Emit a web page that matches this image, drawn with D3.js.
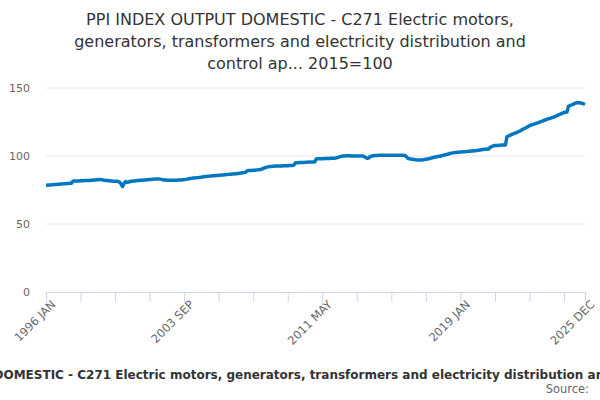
<!DOCTYPE html>
<html>
<head>
<meta charset="utf-8">
<script src="https://cdn.jsdelivr.net/npm/d3@7"></script>
<style>
  body { margin: 0; background: #fff; }
  svg { font-family: "DejaVu Sans", sans-serif; }
</style>
</head>
<body>
<svg id="chart" width="600" height="400"></svg>
<script>
const titleLines = [
  "PPI INDEX OUTPUT DOMESTIC - C271 Electric motors,",
  "generators, transformers and electricity distribution and",
  "control ap... 2015=100"
];
const caption = "PPI INDEX OUTPUT DOMESTIC - C271 Electric motors, generators, transformers and electricity distribution and control apparatus";
const monthNames = ["JAN","FEB","MAR","APR","MAY","JUN","JUL","AUG","SEP","OCT","NOV","DEC"];
const years = d3.range(1996, 2026);
const yTicks = [0, 50, 100, 150];
const labelledMonths = ["1996 JAN", "2003 SEP", "2011 MAY", "2019 JAN", "2025 DEC"];

// one row of 12 monthly values per year, 1996..2025
const values = [
  78.6,78.5,78.6,78.7,78.8,78.9,79.0,79.1,79.2,79.3,79.4,79.5,
  79.6,79.6,79.7,79.8,79.9,80.0,81.5,81.6,81.6,81.7,81.7,81.8,
  81.8,81.8,81.9,81.9,82.0,82.0,82.1,82.2,82.3,82.4,82.5,82.6,
  82.8,82.6,82.3,82.1,82.0,81.9,81.8,81.7,81.6,81.5,81.5,81.4,
  81.3,80.8,79.5,77.5,79.8,81.2,80.6,80.8,81.3,81.5,81.6,81.7,
  81.8,81.9,82.0,82.1,82.2,82.3,82.4,82.5,82.6,82.7,82.8,82.9,
  83.0,83.1,83.1,83.1,83.0,82.8,82.6,82.4,82.3,82.2,82.1,82.1,
  82.1,82.1,82.2,82.2,82.3,82.3,82.4,82.5,82.6,82.8,83.0,83.3,
  83.5,83.6,83.8,83.9,84.0,84.1,84.2,84.3,84.5,84.7,84.9,85.0,
  85.1,85.2,85.3,85.4,85.5,85.6,85.7,85.8,85.9,86.0,86.1,86.2,
  86.3,86.4,86.5,86.6,86.7,86.8,86.9,87.0,87.2,87.3,87.5,87.6,
  87.8,88.0,89.2,89.3,89.3,89.4,89.5,89.6,89.7,89.8,89.9,90.0,
  90.5,91.0,91.4,91.8,92.0,92.2,92.3,92.4,92.5,92.6,92.6,92.7,
  92.7,92.7,92.8,92.8,92.9,92.9,93.0,93.0,93.1,93.2,94.8,95.0,
  95.1,95.2,95.2,95.3,95.3,95.4,95.4,95.5,95.5,95.6,95.6,95.7,
  97.8,97.9,97.9,98.0,98.0,98.0,98.1,98.1,98.2,98.2,98.3,98.3,
  98.3,98.5,98.8,99.2,99.5,99.8,100,100,100.1,100.1,100.1,100,
  100,100,100,100,100,100,100,100,99.5,98.8,98.3,98.6,
  99.5,100,100.2,100.3,100.4,100.4,100.5,100.5,100.5,100.6,100.6,100.6,
  100.6,100.5,100.5,100.5,100.5,100.6,100.6,100.6,100.5,100.5,100.5,100.4,
  99.5,98.3,98.0,97.8,97.6,97.4,97.2,97.1,97.0,97.0,97.1,97.2,
  97.4,97.6,97.8,98.0,98.3,98.6,98.9,99.2,99.4,99.6,99.8,100,
  100.3,100.6,100.9,101.2,101.5,101.8,102.1,102.3,102.5,102.6,102.7,102.8,
  102.9,103.0,103.1,103.2,103.3,103.4,103.5,103.6,103.7,103.8,103.9,104.0,
  104.2,104.4,104.6,104.8,105.0,105.0,105.1,105.2,106.5,107.0,107.5,107.7,
  107.8,107.8,107.9,108.0,108.0,108.0,108.1,114.0,114.7,115.2,115.7,116.2,
  116.6,117.0,117.5,118.0,118.6,119.2,119.8,120.4,121.0,121.6,122.2,122.8,
  123.0,123.4,123.8,124.2,124.6,125.0,125.5,125.9,126.3,126.7,127.1,127.5,
  127.8,128.2,128.6,129.0,129.5,130.0,130.5,131.0,131.5,132.0,132.2,132.3,
  136.5,137.0,137.5,138.0,138.5,139.0,139.2,139.2,139.0,138.7,138.4,138.0
];

const months = years.flatMap(y => monthNames.map(m => y + " " + m));
const data = months.map((m, i) => ({ month: m, value: values[i] }));

const svg = d3.select("#chart");
const margin = { left: 46, right: 15, top: 88, bottom: 108 };
const W = 600, H = 400;

const x = d3.scalePoint().domain(months).range([margin.left, W - margin.right]);
const y = d3.scaleLinear().domain([0, 150]).range([H - margin.bottom, margin.top]);

// title
svg.append("g").selectAll("text").data(titleLines).join("text")
  .attr("x", 300).attr("y", (d, i) => 25 + i * 22)
  .attr("text-anchor", "middle").attr("fill", "#333").attr("font-size", 16)
  .text(d => d);

// gridlines + y labels
svg.append("g").selectAll("line").data(yTicks.filter(t => t > 0)).join("line")
  .attr("x1", margin.left).attr("x2", W - margin.right)
  .attr("y1", d => y(d)).attr("y2", d => y(d))
  .attr("stroke", "#e6e6e6");
svg.append("g").selectAll("text").data(yTicks).join("text")
  .attr("x", 30).attr("y", d => y(d) + 4)
  .attr("text-anchor", "end").attr("fill", "#666").attr("font-size", 11)
  .text(d => d);

// x axis: tick every 23 months plus the last
const tickMonths = d3.range(0, months.length, 23).map(i => months[i]).concat([months[months.length - 1]]);
const xAxis = d3.axisBottom(x).tickValues(tickMonths).tickSize(10)
  .tickFormat(d => labelledMonths.includes(d) ? d : "");
const gx = svg.append("g").attr("transform", `translate(0,${H - margin.bottom})`).call(xAxis);
gx.select(".domain").attr("stroke", "#ccd6eb");
gx.selectAll(".tick line").attr("stroke", "#ccd6eb");
gx.selectAll(".tick text")
  .attr("fill", "#666").attr("font-size", 11.5)
  .attr("font-family", "DejaVu Sans, sans-serif")
  .attr("text-anchor", "end")
  .attr("transform", "rotate(-45)")
  .attr("dx", "-0.2em").attr("dy", "0.9em")
  .attr("y", 6).attr("x", 0);

// line
svg.append("path").datum(data)
  .attr("fill", "none").attr("stroke", "#0077bf").attr("stroke-width", 3.5)
  .attr("stroke-linejoin", "round")
  .attr("d", d3.line().x(d => x(d.month)).y(d => y(d.value)));

// caption and source
svg.append("text").attr("x", 300).attr("y", 379)
  .attr("text-anchor", "middle").attr("font-weight", "bold").attr("fill", "#333").attr("font-size", 12)
  .text(caption);
svg.append("text").attr("x", 589).attr("y", 393)
  .attr("text-anchor", "end").attr("fill", "#666").attr("font-size", 11.5)
  .text("Source:");
</script>
</body>
</html>
